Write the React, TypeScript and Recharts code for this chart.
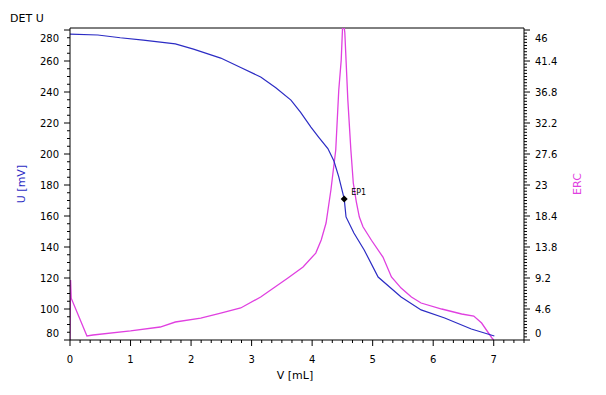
import React from "react";
import {
  LineChart,
  Line,
  XAxis,
  YAxis,
  ReferenceLine,
  ReferenceDot,
} from "recharts";

// U (blue) curve: volume [mL] and potential [mV]
const uVolume = [0, 0.46, 0.83, 1.21, 1.74, 2.04, 2.49, 2.82, 3.15, 3.4, 3.65, 3.81, 3.98, 4.11, 4.26, 4.36, 4.44, 4.53, 4.56, 4.69, 4.86, 5.09, 5.47, 5.8, 6.19, 6.63, 7.01];
const uValues = [277.4, 276.8, 275.0, 273.5, 271.0, 267.7, 261.9, 255.8, 249.7, 242.8, 234.8, 226.9, 217.4, 210.8, 203.5, 195.5, 185.2, 171.0, 159.4, 149.0, 138.1, 120.6, 107.7, 99.4, 94.2, 87.1, 82.6];

// ERC (magenta) curve
const ercVolume = [0, 0.01, 0.02, 0.28, 0.38, 1.0, 1.49, 1.74, 2.16, 2.49, 2.82, 3.15, 3.6, 3.85, 4.06, 4.15, 4.23, 4.31, 4.39, 4.44, 4.48, 4.51, 4.54, 4.59, 4.64, 4.68, 4.73, 4.78, 4.84, 4.98, 5.17, 5.31, 5.47, 5.64, 5.8, 6.14, 6.47, 6.67, 6.8, 6.97, 7.0];
const ercValues = [0, 8.9, 6.2, 0.6, 0.74, 1.34, 1.93, 2.67, 3.26, 4.0, 4.75, 6.38, 9.2, 10.83, 12.9, 14.84, 17.36, 22.26, 28.2, 37.1, 41.5, 48, 45.6, 35.6, 28.2, 23.3, 20.5, 18.25, 16.8, 14.8, 12.3, 9.35, 7.7, 6.38, 5.49, 4.6, 3.86, 3.56, 2.52, 0.3, 0];

// endpoint marker
const ep1 = { v: 4.53, u: 171.0, name: "EP1" };

// tick labels
const xMajor = [0, 1, 2, 3, 4, 5, 6, 7];
const leftMajor = [80, 100, 120, 140, 160, 180, 200, 220, 240, 260, 280];
const rightMajor = [0, 4.6, 9.2, 13.8, 18.4, 23, 27.6, 32.2, 36.8, 41.4, 46];
const rightLabels = ["0", "4.6", "9.2", "13.8", "18.4", "23", "27.6", "32.2", "36.8", "41.4", "46"];

const BLUE = "#2c2cc4";
const PINK = "#e040e0";
const FONT = "'DejaVu Sans', Verdana, sans-serif";

const uData = uVolume.map((v, i) => ({ v, u: uValues[i] }));
const ercData = ercVolume.map((v, i) => ({ v, erc: ercValues[i] }));

// majors plus evenly split minor ticks between them
function withMinor(majors: number[], parts: number, extraEnd = 0) {
  const out: number[] = [];
  const step = (majors[1] - majors[0]) / parts;
  for (let i = 0; i < majors.length - 1; i++) {
    for (let k = 0; k < parts; k++) out.push(+(majors[i] + k * step).toFixed(4));
  }
  const last = majors[majors.length - 1];
  out.push(last);
  for (let k = 1; k <= extraEnd; k++) out.push(+(last + k * step).toFixed(4));
  return out;
}

const xTicks = withMinor(xMajor, 6, 3);
const leftTicks = withMinor(leftMajor, 4);
const rightTicks = withMinor(rightMajor, 10);

const near = (a: number, b: number) => Math.abs(a - b) < 1e-3;

function LeftTick(props: any) {
  const { x, y, payload } = props;
  const val = payload.value;
  const major = leftMajor.some((m) => near(m, val));
  let ty = y + 4;
  if (near(val, 280)) ty += 8;
  if (near(val, 80)) ty -= 7;
  return (
    <g>
      <line x1={x - (major ? 6 : 3)} x2={x} y1={y} y2={y} stroke="#000" />
      {major && (
        <text x={x - 11} y={ty} textAnchor="end" fontSize={10} fontFamily={FONT} fill="#000">
          {val}
        </text>
      )}
    </g>
  );
}

function RightTick(props: any) {
  const { x, y, payload } = props;
  const val = payload.value;
  const idx = rightMajor.findIndex((m) => near(m, val));
  let ty = y + 4;
  if (idx === rightMajor.length - 1) ty += 8;
  if (idx === 0) ty -= 7;
  return (
    <g>
      <line x1={x} x2={x + (idx >= 0 ? 6 : 3)} y1={y} y2={y} stroke="#000" />
      {idx >= 0 && (
        <text x={x + 11} y={ty} textAnchor="start" fontSize={10} fontFamily={FONT} fill="#000">
          {rightLabels[idx]}
        </text>
      )}
    </g>
  );
}

function BottomTick(props: any) {
  const { x, y, payload } = props;
  const val = payload.value;
  const major = xMajor.some((m) => near(m, val));
  return (
    <g>
      <line x1={x} x2={x} y1={y} y2={y + (major ? 6 : 3)} stroke="#000" />
      {major && (
        <text x={x} y={y + 23} textAnchor="middle" fontSize={10} fontFamily={FONT} fill="#000">
          {val}
        </text>
      )}
    </g>
  );
}

function EpMarker(props: any) {
  const { cx, cy } = props;
  if (cx == null || cy == null) return null;
  const s = 3.5;
  return (
    <g>
      <polygon
        points={`${cx},${cy - s} ${cx + s},${cy} ${cx},${cy + s} ${cx - s},${cy}`}
        fill="#000"
      />
      <text x={cx + 7} y={cy - 4} fontSize={8} fontFamily={FONT} fill="#000">
        {ep1.name}
      </text>
    </g>
  );
}

export default function App() {
  return (
    <div style={{ position: "absolute", left: 0, top: 0, width: 606, height: 395, background: "#fff" }}>
      <LineChart
        width={606}
        height={395}
        margin={{ top: 28, right: 42, bottom: 25, left: 30 }}
      >
        <XAxis
          type="number"
          dataKey="v"
          domain={[0, 7.5]}
          ticks={xTicks}
          interval={0}
          allowDataOverflow
          tickSize={0}
          tickMargin={0}
          tickLine={false}
          tick={<BottomTick />}
          axisLine={{ stroke: "#000" }}
          height={30}
        />
        <YAxis
          yAxisId="left"
          domain={[80, 281.3]}
          ticks={leftTicks}
          interval={0}
          allowDataOverflow
          tickSize={0}
          tickMargin={0}
          tickLine={false}
          tick={<LeftTick />}
          axisLine={{ stroke: "#000" }}
          width={40}
        />
        <YAxis
          yAxisId="right"
          orientation="right"
          domain={[0, 46.3]}
          ticks={rightTicks}
          interval={0}
          allowDataOverflow
          tickSize={0}
          tickMargin={0}
          tickLine={false}
          tick={<RightTick />}
          axisLine={{ stroke: "#000" }}
          width={40}
        />
        <ReferenceLine yAxisId="right" y={46.3} stroke="#000" />
        <Line
          yAxisId="right"
          data={ercData}
          dataKey="erc"
          type="linear"
          stroke={PINK}
          strokeWidth={1.3}
          dot={false}
          isAnimationActive={false}
        />
        <Line
          yAxisId="left"
          data={uData}
          dataKey="u"
          type="linear"
          stroke={BLUE}
          strokeWidth={1.2}
          dot={false}
          isAnimationActive={false}
        />
        <ReferenceDot
          yAxisId="left"
          x={ep1.v}
          y={ep1.u}
          r={3}
          shape={<EpMarker />}
        />
      </LineChart>
      <svg
        width={606}
        height={395}
        style={{ position: "absolute", left: 0, top: 0, pointerEvents: "none" }}
      >
        <text x={10} y={22} fontSize={11} fontFamily={FONT} fill="#000">
          DET U
        </text>
        <text
          x={21}
          y={184}
          transform="rotate(-90 21 184)"
          textAnchor="middle"
          dominantBaseline="central"
          fontSize={11}
          fontFamily={FONT}
          fill={BLUE}
        >
          U [mV]
        </text>
        <text
          x={577}
          y={184}
          transform="rotate(-90 577 184)"
          textAnchor="middle"
          dominantBaseline="central"
          fontSize={11}
          fontFamily={FONT}
          fill={PINK}
        >
          ERC
        </text>
        <text x={295} y={379} textAnchor="middle" fontSize={11} fontFamily={FONT} fill="#000">
          V [mL]
        </text>
      </svg>
    </div>
  );
}
